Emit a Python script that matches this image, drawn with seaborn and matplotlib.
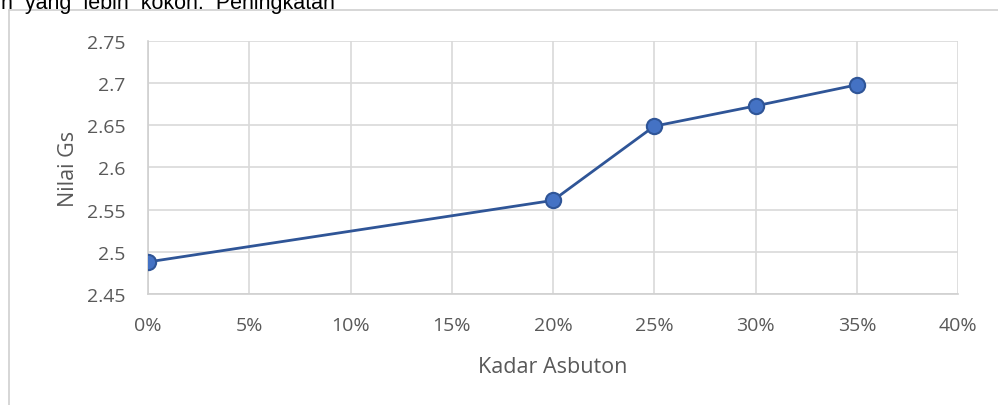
import matplotlib
matplotlib.use("Agg")
import matplotlib.pyplot as plt
import seaborn as sns
import pandas as pd
from matplotlib.lines import Line2D
from matplotlib.ticker import FuncFormatter

kadar = [0.00, 0.20, 0.25, 0.30, 0.35]
nilai_gs = [2.488, 2.561, 2.649, 2.673, 2.698]
y_ticks = [2.45, 2.5, 2.55, 2.6, 2.65, 2.7, 2.75]
x_ticks = [0.0, 0.05, 0.10, 0.15, 0.20, 0.25, 0.30, 0.35, 0.40]

df = pd.DataFrame({'kadar': kadar, 'gs': nilai_gs})

sns.set_style('white')
plt.rcParams['font.family'] = ['Open Sans', 'DejaVu Sans']

fig = plt.figure(figsize=(9.98, 4.06), dpi=100)
ax = fig.add_axes([0.1483, 0.2734, 0.960 - 0.1483, 0.8966 - 0.2734])

sns.lineplot(data=df, x='kadar', y='gs', ax=ax, color='#2f5597', linewidth=2,
             marker='o', markersize=11, markerfacecolor='#4472c4',
             markeredgecolor='#2f5597', markeredgewidth=1.5, zorder=3)

ax.set_xlim(0, 0.40)
ax.set_ylim(2.45, 2.75)
ax.set_xticks(x_ticks)
ax.set_yticks(y_ticks)
ax.xaxis.set_major_formatter(FuncFormatter(lambda v, p: f'{v*100:.0f}%'))
ax.yaxis.set_major_formatter(FuncFormatter(lambda v, p: f'{v:g}'))
ax.grid(True, color='#d9d9d9', linewidth=1.2)
ax.set_axisbelow(True)
for s in ['top', 'right']:
    ax.spines[s].set_visible(False)
for s in ['left', 'bottom']:
    ax.spines[s].set_color('#d0d0d0')
    ax.spines[s].set_linewidth(1.2)
ax.tick_params(axis='both', length=0, labelsize=14, colors='#595959')
ax.tick_params(axis='x', pad=16)
ax.tick_params(axis='y', pad=16)
ax.set_xlabel('Kadar Asbuton', fontsize=15.5, color='#595959', labelpad=16)
ax.set_ylabel('Nilai Gs', fontsize=15.5, color='#595959', labelpad=6)

# chart frame and clipped page text above it
fig.add_artist(Line2D([9 / 998, 9 / 998], [0, 1 - 11 / 406], transform=fig.transFigure,
                      color='#d0d0d0', linewidth=1.2))
fig.add_artist(Line2D([9 / 998, 1], [1 - 11 / 406, 1 - 11 / 406], transform=fig.transFigure,
                      color='#d0d0d0', linewidth=1.2))
fig.text(0.001, 1 - 9.5 / 406, 'n  yang  lebih  kokoh.  Peningkatan', fontsize=15.5,
         color='black', va='baseline', ha='left', family=['Liberation Sans', 'DejaVu Sans'])

fig.savefig('out.png', dpi=100)
